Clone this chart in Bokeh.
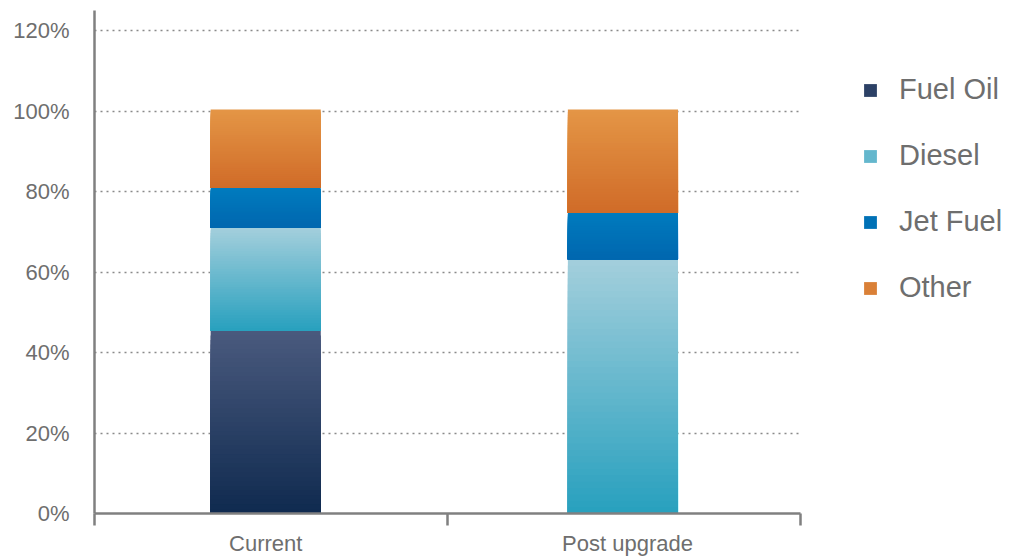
from bokeh.plotting import figure
from bokeh.models import ColumnDataSource, Legend, LegendItem, FixedTicker, Range1d
from bokeh.embed import file_html
from bokeh.resources import INLINE

categories = ["Current", "Post upgrade"]
series_names = ["Fuel Oil", "Diesel", "Jet Fuel", "Other"]
fuel_oil = [45.4, 0.0]
diesel = [25.6, 63.2]
jet_fuel = [9.9, 11.5]
other = [19.5, 25.7]
y_ticks = [0, 20, 40, 60, 80, 100, 120]
y_labels = ["0%", "20%", "40%", "60%", "80%", "100%", "120%"]

# gradient colours (bottom, top) for each series
grad = {
    "Fuel Oil": ("#0f2a4f", "#4a5a7e"),
    "Diesel": ("#27a0be", "#a4cfdc"),
    "Jet Fuel": ("#0067af", "#007bbe"),
    "Other": ("#d06b28", "#e49646"),
}

TXT = "#6e6e6e"
FONT = "Liberation Sans"

# layout: bar centres and label centres on the numeric x scale (0..2)
bar_x = [0.485, 1.497]
label_x = [0.485, 1.51]
bar_w = 0.312


def hex2rgb(h):
    h = h.lstrip("#")
    return tuple(int(h[i:i + 2], 16) for i in (0, 2, 4))


def mix(c0, c1, t):
    a, b = hex2rgb(c0), hex2rgb(c1)
    return "#%02x%02x%02x" % tuple(round(a[k] + (b[k] - a[k]) * t) for k in range(3))


p = figure(frame_width=706, frame_height=503, output_backend="svg", toolbar_location=None,
           x_range=Range1d(0, 2), y_range=Range1d(0, 125),
           min_border_left=94, min_border_top=10, min_border_bottom=42,
           min_border_right=205)
p.outline_line_color = None
p.background_fill_color = "white"
p.border_fill_color = "white"

N = 40
values = [fuel_oil, diesel, jet_fuel, other]
items = []
bottoms = [0.0] * len(categories)
for name, vals in zip(series_names, values):
    c0, c1 = grad[name]
    left, right, bot, top, col = [], [], [], [], []
    for ci, v in enumerate(vals):
        b = bottoms[ci]
        t = b + v
        if v > 0:
            xc = bar_x[ci]
            for i in reversed(range(N)):
                left.append(xc - bar_w / 2)
                right.append(xc + bar_w / 2)
                bot.append(b)
                top.append(b + v * (i + 1) / N)
                col.append(mix(c0, c1, (i + 0.5) / N))
        bottoms[ci] = t
    src = ColumnDataSource(dict(left=left, right=right, bottom=bot, top=top, color=col))
    r = p.quad(left="left", right="right", bottom="bottom", top="top", source=src,
               fill_color="color", line_color=None)
    items.append(LegendItem(label=name, renderers=[r], index=N // 2))

# axes
p.xgrid.grid_line_color = None
p.ygrid.grid_line_color = "#8a8a8a"
p.ygrid.grid_line_dash = "2 4"
p.ygrid.grid_line_width = 1.5
p.ygrid.ticker = FixedTicker(ticks=y_ticks)

p.yaxis.ticker = FixedTicker(ticks=y_ticks)
p.yaxis.major_label_overrides = {t: l for t, l in zip(y_ticks, y_labels)}
p.yaxis.major_tick_line_color = None
p.yaxis.major_tick_out = 0
p.yaxis.major_tick_in = 0
p.yaxis.minor_tick_line_color = None
p.yaxis.axis_line_color = "#808080"
p.yaxis.axis_line_width = 2.5
p.yaxis.major_label_text_font = FONT
p.yaxis.major_label_text_font_size = "22px"
p.yaxis.major_label_text_color = TXT
p.yaxis.major_label_standoff = 25

p.xaxis.ticker = FixedTicker(ticks=label_x, minor_ticks=[0, 1, 2])
p.xaxis.major_label_overrides = {label_x[0]: categories[0], label_x[1]: categories[1]}
p.xaxis.major_tick_line_color = None
p.xaxis.major_tick_out = 0
p.xaxis.major_tick_in = 0
p.xaxis.minor_tick_line_color = "#808080"
p.xaxis.minor_tick_line_width = 2.5
p.xaxis.minor_tick_out = 12
p.xaxis.minor_tick_in = 0
p.xaxis.axis_line_color = "#808080"
p.xaxis.axis_line_width = 2.5
p.xaxis.major_label_text_font = FONT
p.xaxis.major_label_text_font_size = "22px"
p.xaxis.major_label_text_color = TXT
p.xaxis.major_label_standoff = 5

legend = Legend(items=items, location=(62, 209))
legend.margin = 0
legend.padding = 0
legend.border_line_color = None
legend.background_fill_alpha = 0
legend.glyph_width = 16
legend.glyph_height = 16
legend.label_standoff = 21
legend.spacing = 33
legend.label_text_font = FONT
legend.label_text_font_size = "29px"
legend.label_text_color = TXT
p.add_layout(legend, "right")

open("out.html", "w").write(file_html(p, INLINE))
